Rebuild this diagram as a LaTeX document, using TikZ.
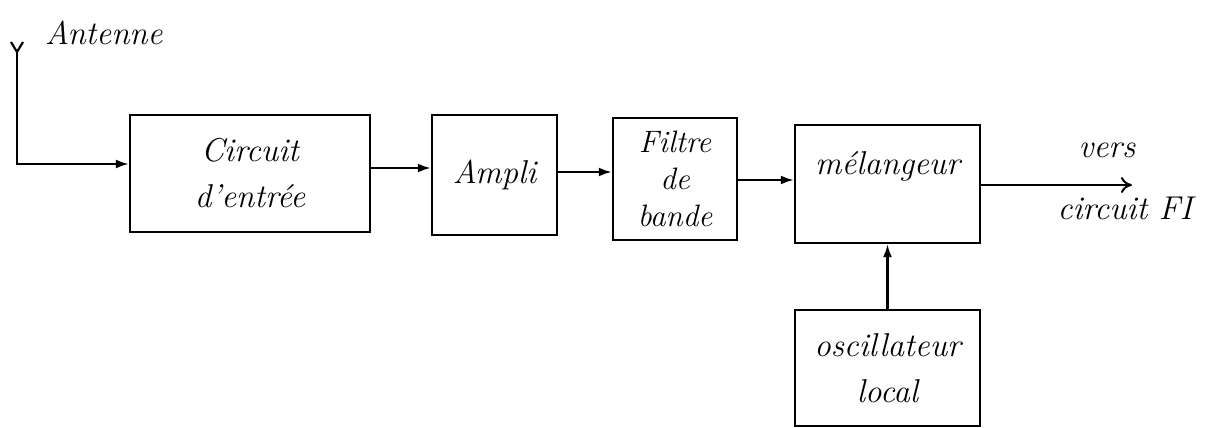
\documentclass[tikz,border=0pt]{standalone}
\usepackage{fontspec}
\usetikzlibrary{arrows.meta}
\begin{document}
\begin{tikzpicture}[x=1pt,y=-1pt,
  blk/.style={draw,line width=2.4pt,inner sep=0pt,align=center,font=\fontsize{33}{46}\selectfont\itshape},
  lbl/.style={inner sep=0pt,font=\fontsize{33}{40}\selectfont\itshape},
  con/.style={line width=2.2pt,-{Latex[length=13pt,width=9pt]}},
  opencon/.style={line width=2pt,-{To[length=11pt,width=16pt]}}]
\useasboundingbox (0,0) rectangle (1208,428);
\node[blk,minimum width=240pt,minimum height=117pt] (ce) at (250,173.5) {Circuit\\d'entrée};
\node[blk,minimum width=125pt,minimum height=120pt] (amp) at (494.5,175) {Ampli};
\node[blk,minimum width=124pt,minimum height=122pt,font=\fontsize{31}{37}\selectfont\itshape] (fil) at (675,179) {Filtre\\de\\bande};
\node[blk,minimum width=185pt,minimum height=118pt] (mel) at (887.5,184) {mélangeur\\[-4pt]};
\node[blk,minimum width=185pt,minimum height=116pt] (osc) at (887.5,368) {oscillateur\\local};
\coordinate (ant) at (17,52);
\coordinate (antc) at (17,164);
\draw[line width=2.2pt] (11,42) -- (ant) -- (23,42);
\node[lbl,anchor=west] (antl) at (45,33) {Antenne};
\draw[con] (ant) -- (antc) -- (antc -| ce.west);
\draw[con] (ce.east |- 0,168) -- (amp.west |- 0,168);
\draw[con] (amp.east |- 0,172) -- (fil.west |- 0,172);
\draw[con] (fil.east |- 0,180) -- (mel.west |- 0,180);
\coordinate (out) at (1132,185);
\draw[opencon] (mel.east |- out) -- (out);
\node[lbl] (vers) at (1107,150) {vers};
\node[lbl] (cfi) at (1125,208) {circuit FI};
\draw[con] (osc.north) -- (mel.south);
\end{tikzpicture}
\end{document}
